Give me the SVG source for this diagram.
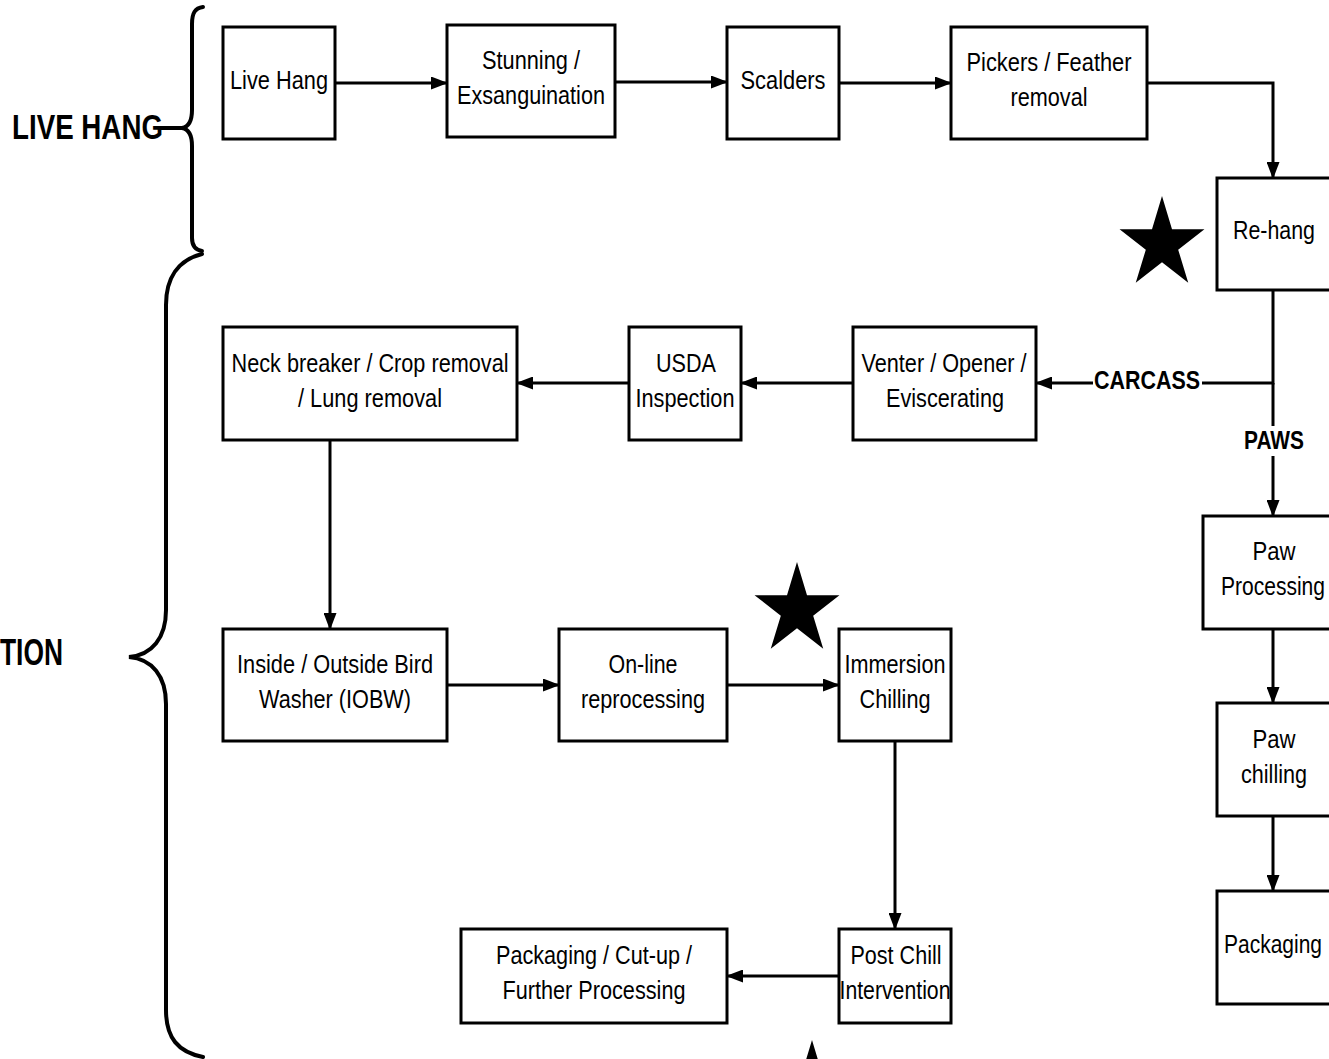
<svg xmlns="http://www.w3.org/2000/svg" width="1329" height="1059" viewBox="0 0 1329 1059">
<style>
.box{fill:#fff;stroke:#000;stroke-width:3}
.t{font-family:"Liberation Sans",Arial,sans-serif;font-size:26px;fill:#000;text-anchor:middle}
.b{font-family:"Liberation Sans",Arial,sans-serif;font-weight:bold;fill:#000}
.c{fill:none;stroke:#000;stroke-width:3}
.brace{fill:none;stroke:#000;stroke-width:4;stroke-linecap:round}
</style>
<defs>
<marker id="ah" markerUnits="userSpaceOnUse" markerWidth="17" markerHeight="13" refX="16" refY="6.5" orient="auto">
<path d="M0,0 L17,6.5 L0,13 Z" fill="#000"/>
</marker>
<path id="star" d="M0,-48 L10,-14.81 L42.45,-14.83 L16.18,5.66 L26.24,38.83 L0,18.3 L-26.24,38.83 L-16.18,5.66 L-42.45,-14.83 L-10,-14.81 Z" fill="#000"/>
</defs>
<rect width="1329" height="1059" fill="#fff"/>

<g id="braces">
<path class="brace" d="M203,7 C195,8 192,13 192,24 L192,110 C192,122 188,127 182,128 C188,129 192,134 192,146 L192,238 C192,246 196,250 202,251"/>
<path class="brace" d="M160,128 L182,128"/>
<path class="brace" d="M202,254 C178,260 166,278 166,305 L166,610 C166,638 152,655 129,657 C152,659 166,676 166,704 L166,1010 C166,1038 178,1052 203,1057"/>
</g>
<g id="section-labels">
<text class="b" x="12" y="139" font-size="35" textLength="151" lengthAdjust="spacingAndGlyphs">LIVE HANG</text>
<text class="b" x="0" y="665" font-size="36" textLength="63" lengthAdjust="spacingAndGlyphs">TION</text>
</g>

<g id="connectors">
<path class="c" d="M335,83 H447" marker-end="url(#ah)"/>
<path class="c" d="M615,82 H727" marker-end="url(#ah)"/>
<path class="c" d="M839,83 H951" marker-end="url(#ah)"/>
<path class="c" d="M1147,83 H1273 V178" marker-end="url(#ah)"/>
<path class="c" d="M1273,290 V383 H1036" marker-end="url(#ah)"/>
<path class="c" d="M1273,383 V516" marker-end="url(#ah)"/>
<path class="c" d="M853,383 H741" marker-end="url(#ah)"/>
<path class="c" d="M629,383 H517" marker-end="url(#ah)"/>
<path class="c" d="M330,440 V629" marker-end="url(#ah)"/>
<path class="c" d="M447,685 H559" marker-end="url(#ah)"/>
<path class="c" d="M727,685 H839" marker-end="url(#ah)"/>
<path class="c" d="M895,741 V929" marker-end="url(#ah)"/>
<path class="c" d="M839,976 H727" marker-end="url(#ah)"/>
<path class="c" d="M1273,629 V703" marker-end="url(#ah)"/>
<path class="c" d="M1273,816 V891" marker-end="url(#ah)"/>
<rect x="1093" y="368" width="109" height="26" fill="#fff"/>
<text class="b" x="1094" y="389" font-size="25" textLength="106" lengthAdjust="spacingAndGlyphs">CARCASS</text>
<rect x="1240" y="426" width="68" height="30" fill="#fff"/>
<text class="b" x="1244" y="449" font-size="25" textLength="60" lengthAdjust="spacingAndGlyphs">PAWS</text>
</g>

<g id="live-hang">
<rect class="box" x="223" y="27" width="112" height="112"/>
<text class="t" x="279" y="89" textLength="98" lengthAdjust="spacingAndGlyphs">Live Hang</text>
</g>
<g id="stunning">
<rect class="box" x="447" y="25" width="168" height="112"/>
<text class="t" x="531" y="69" textLength="98" lengthAdjust="spacingAndGlyphs">Stunning /</text>
<text class="t" x="531" y="104" textLength="148" lengthAdjust="spacingAndGlyphs">Exsanguination</text>
</g>
<g id="scalders">
<rect class="box" x="727" y="27" width="112" height="112"/>
<text class="t" x="783" y="89" textLength="85" lengthAdjust="spacingAndGlyphs">Scalders</text>
</g>
<g id="pickers">
<rect class="box" x="951" y="27" width="196" height="112"/>
<text class="t" x="1049" y="71" textLength="165" lengthAdjust="spacingAndGlyphs">Pickers / Feather</text>
<text class="t" x="1049" y="106" textLength="77" lengthAdjust="spacingAndGlyphs">removal</text>
</g>
<g id="re-hang">
<rect class="box" x="1217" y="178" width="114" height="112"/>
<text class="t" x="1274" y="239" textLength="82" lengthAdjust="spacingAndGlyphs">Re-hang</text>
</g>
<g id="venter">
<rect class="box" x="853" y="327" width="183" height="113"/>
<text class="t" x="944" y="372" textLength="165" lengthAdjust="spacingAndGlyphs">Venter / Opener /</text>
<text class="t" x="945" y="407" textLength="118" lengthAdjust="spacingAndGlyphs">Eviscerating</text>
</g>
<g id="usda">
<rect class="box" x="629" y="327" width="112" height="113"/>
<text class="t" x="686" y="372" textLength="60" lengthAdjust="spacingAndGlyphs">USDA</text>
<text class="t" x="685" y="407" textLength="99" lengthAdjust="spacingAndGlyphs">Inspection</text>
</g>
<g id="neck-breaker">
<rect class="box" x="223" y="327" width="294" height="113"/>
<text class="t" x="370" y="372" textLength="277" lengthAdjust="spacingAndGlyphs">Neck breaker / Crop removal</text>
<text class="t" x="370" y="407" textLength="144" lengthAdjust="spacingAndGlyphs">/ Lung removal</text>
</g>
<g id="iobw">
<rect class="box" x="223" y="629" width="224" height="112"/>
<text class="t" x="335" y="673" textLength="196" lengthAdjust="spacingAndGlyphs">Inside / Outside Bird</text>
<text class="t" x="335" y="708" textLength="152" lengthAdjust="spacingAndGlyphs">Washer (IOBW)</text>
</g>
<g id="online-reprocessing">
<rect class="box" x="559" y="629" width="168" height="112"/>
<text class="t" x="643" y="673" textLength="69" lengthAdjust="spacingAndGlyphs">On-line</text>
<text class="t" x="643" y="708" textLength="124" lengthAdjust="spacingAndGlyphs">reprocessing</text>
</g>
<g id="immersion-chilling">
<rect class="box" x="839" y="629" width="112" height="112"/>
<text class="t" x="895" y="673" textLength="101" lengthAdjust="spacingAndGlyphs">Immersion</text>
<text class="t" x="895" y="708" textLength="71" lengthAdjust="spacingAndGlyphs">Chilling</text>
</g>
<g id="post-chill">
<rect class="box" x="839" y="929" width="112" height="94"/>
<text class="t" x="896" y="964" textLength="91" lengthAdjust="spacingAndGlyphs">Post Chill</text>
<text class="t" x="895" y="999" textLength="111" lengthAdjust="spacingAndGlyphs">Intervention</text>
</g>
<g id="packaging-cutup">
<rect class="box" x="461" y="929" width="266" height="94"/>
<text class="t" x="594" y="964" textLength="196" lengthAdjust="spacingAndGlyphs">Packaging / Cut-up /</text>
<text class="t" x="594" y="999" textLength="183" lengthAdjust="spacingAndGlyphs">Further Processing</text>
</g>
<g id="paw-processing">
<rect class="box" x="1203" y="516" width="128" height="113"/>
<text class="t" x="1274" y="560" textLength="43" lengthAdjust="spacingAndGlyphs">Paw</text>
<text class="t" x="1273" y="595" textLength="104" lengthAdjust="spacingAndGlyphs">Processing</text>
</g>
<g id="paw-chilling">
<rect class="box" x="1217" y="703" width="114" height="113"/>
<text class="t" x="1274" y="748" textLength="43" lengthAdjust="spacingAndGlyphs">Paw</text>
<text class="t" x="1274" y="783" textLength="66" lengthAdjust="spacingAndGlyphs">chilling</text>
</g>
<g id="packaging">
<rect class="box" x="1217" y="891" width="114" height="113"/>
<text class="t" x="1273" y="953" textLength="98" lengthAdjust="spacingAndGlyphs">Packaging</text>
</g>

<g id="stars">
<use href="#star" transform="translate(1162,244)"/>
<use href="#star" transform="translate(797,610)"/>
<use href="#star" transform="translate(812,1088)"/>
</g>
</svg>
